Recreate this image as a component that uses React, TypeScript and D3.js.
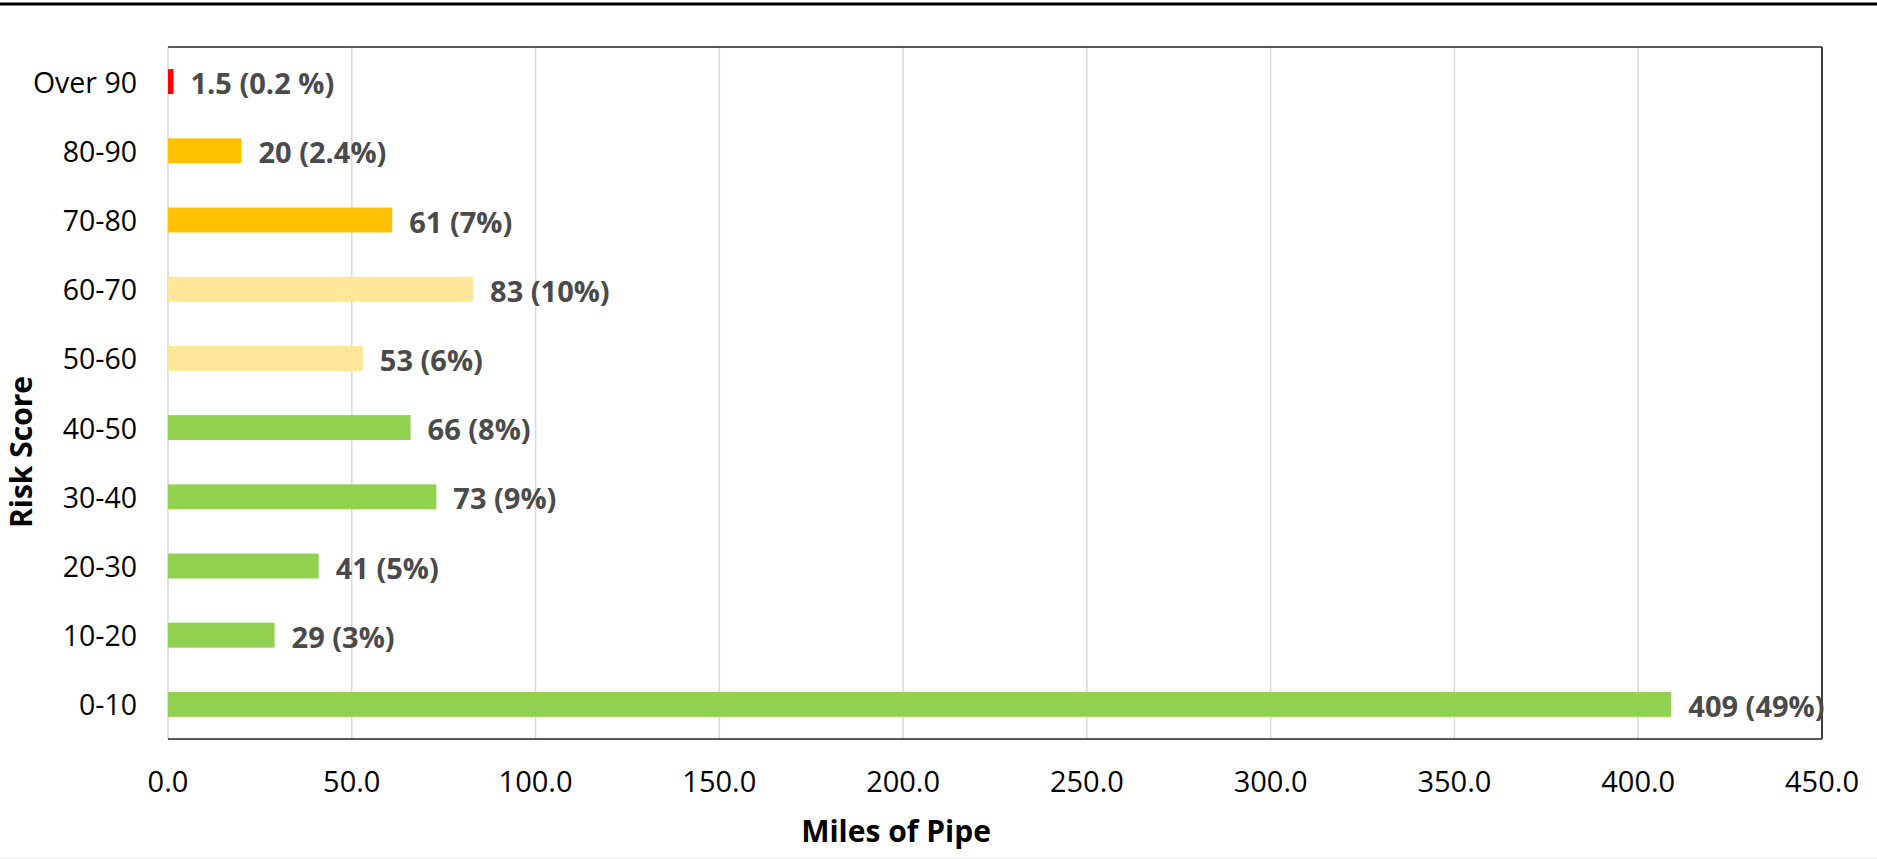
import React, { useEffect } from "react"
import { scaleLinear, scaleBand, range } from "d3"

const categories = ["Over 90", "80-90", "70-80", "60-70", "50-60", "40-50", "30-40", "20-30", "10-20", "0-10"]
const miles = [1.5, 20, 61, 83, 53, 66, 73, 41, 29, 409]
const valueLabels = ["1.5 (0.2 %)", "20 (2.4%)", "61 (7%)", "83 (10%)", "53 (6%)", "66 (8%)", "73 (9%)", "41 (5%)", "29 (3%)", "409 (49%)"]
const barColors = ["#FF0000", "#FFC000", "#FFC000", "#FFE699", "#FFE699", "#92D050", "#92D050", "#92D050", "#92D050", "#92D050"]
const xTicks = range(0, 451, 50)

const FONT = "'Open Sans', 'Noto Sans', sans-serif"

export default function App() {
  useEffect(() => {
    document.body.style.margin = "0"
  }, [])

  const W = 1877
  const H = 859
  const left = 168
  const right = 1822
  const top = 47
  const bottom = 739

  const x = scaleLinear().domain([0, 450]).range([left, right])
  const y = scaleBand().domain(categories).range([top, bottom]).paddingInner(0.64).paddingOuter(0.32)

  return (
    <svg width={W} height={H} style={{ display: "block", background: "#fff" }}>
      {/* top rule */}
      <line x1={0} x2={W} y1={4} y2={4} stroke="#000" strokeWidth={3} />
      <line x1={0} x2={W} y1={858} y2={858} stroke="#eeeeee" strokeWidth={1} />

      {/* gridlines */}
      {xTicks.map(t => (
        <line key={t} x1={x(t)} x2={x(t)} y1={top} y2={bottom} stroke="#d9d9d9" strokeWidth={1.5} />
      ))}

      {/* frame */}
      <line x1={left} x2={right} y1={top} y2={top} stroke="#222" strokeWidth={1.5} />
      <line x1={left} x2={right} y1={bottom} y2={bottom} stroke="#222" strokeWidth={1.5} />
      <line x1={right} x2={right} y1={top} y2={bottom} stroke="#404040" strokeWidth={2} />

      {/* bars */}
      {categories.map((c, i) => (
        <rect
          key={c}
          x={x(0)}
          y={y(c)}
          width={x(miles[i]) - x(0)}
          height={y.bandwidth()}
          fill={barColors[i]}
        />
      ))}

      {/* value labels */}
      {categories.map((c, i) => (
        <text
          key={c}
          x={x(miles[i]) + 17}
          y={(y(c) as number) + y.bandwidth() / 2 + 1}
          dominantBaseline="central"
          fontFamily={FONT}
          fontWeight="bold"
          fontSize={29}
          fill="#4a4a4a"
        >
          {valueLabels[i]}
        </text>
      ))}

      {/* category labels */}
      {categories.map(c => (
        <text
          key={c}
          x={137}
          y={(y(c) as number) + y.bandwidth() / 2}
          dominantBaseline="central"
          textAnchor="end"
          fontFamily={FONT}
          fontSize={28.5}
          fill="#000"
        >
          {c}
        </text>
      ))}

      {/* x tick labels */}
      {xTicks.map(t => (
        <text
          key={t}
          x={x(t)}
          y={792}
          textAnchor="middle"
          fontFamily={FONT}
          fontSize={29}
          fill="#000"
        >
          {t.toFixed(1)}
        </text>
      ))}

      {/* axis titles */}
      <text x={896} y={842} textAnchor="middle" fontFamily={FONT} fontWeight="bold" fontSize={30} fill="#000">
        Miles of Pipe
      </text>
      <text
        transform="translate(32,452) rotate(-90)"
        textAnchor="middle"
        fontFamily={FONT}
        fontWeight="bold"
        fontSize={30}
        fill="#000"
      >
        Risk Score
      </text>
    </svg>
  )
}
